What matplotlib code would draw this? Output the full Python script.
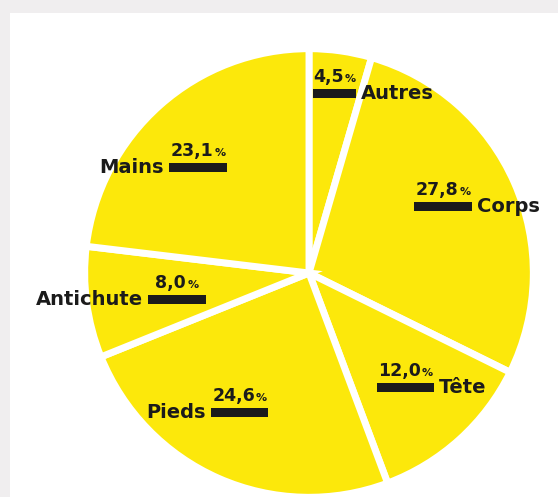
import matplotlib
matplotlib.use("Agg")
import matplotlib.pyplot as plt
from matplotlib.patches import Rectangle

# Share of incidents by body zone / equipment (%), clockwise from 12 o'clock
categories = ["Autres", "Corps", "Tête", "Pieds", "Antichute", "Mains"]
shares = [4.5, 27.8, 12.0, 24.6, 8.0, 23.1]

# Label layout: left end of the black bar (pie units), bar length, side of the name
label_anchor = [(0.018, 0.814), (0.475, 0.299), (0.308, -0.516),
                (-0.443, -0.633), (-0.729, -0.122), (-0.633, 0.477)]
bar_len = [0.195, 0.262, 0.258, 0.258, 0.262, 0.262]
name_side = ["right", "right", "right", "left", "left", "left"]

YELLOW = "#fce80b"
INK = "#1b1b1b"
PX = 72 / 100  # points per pixel

fig = plt.figure(figsize=(5.58, 4.97), dpi=100, facecolor="#f0eeef")
fig.patches.append(Rectangle((10 / 558, 0), 1, 1 - 13 / 497, transform=fig.transFigure,
                             facecolor="white", edgecolor="none", zorder=-5))

ax = fig.add_axes([88 / 558, 3 / 497, 442 / 558, 442 / 497])
ax.set_zorder(1)
ax.patch.set_visible(False)
ax.pie(shares, startangle=90, counterclock=False, colors=[YELLOW] * len(shares),
       radius=1.015, wedgeprops=dict(edgecolor="white", linewidth=5))
ax.set_xlim(-1, 1)
ax.set_ylim(-1, 1)
ax.set_aspect("equal")
ax.set_axis_off()

bar_h = 9 / 221
font = dict(family="DejaVu Sans", fontweight="bold", color=INK)

pct_pairs = []
for name, val, (x0, yc), w, side in zip(categories, shares, label_anchor, bar_len, name_side):
    ax.add_patch(Rectangle((x0, yc - bar_h / 2), w, bar_h, facecolor=INK,
                           edgecolor="none", zorder=5, clip_on=False))
    # category name next to the bar
    if side == "right":
        ax.annotate(name, xy=(x0 + w, yc), xytext=(5 * PX, -5.5 * PX),
                    textcoords="offset points", ha="left", va="baseline",
                    fontsize=14, zorder=6, annotation_clip=False, **font)
    else:
        ax.annotate(name, xy=(x0, yc), xytext=(-5 * PX, -5.5 * PX),
                    textcoords="offset points", ha="right", va="baseline",
                    fontsize=14, zorder=6, annotation_clip=False, **font)
    # value above the bar, with a smaller percent sign
    num_txt = f"{val:.1f}".replace(".", ",")
    xc = x0 + w / 2
    num = ax.annotate(num_txt, xy=(xc, yc), xytext=(0, 11.5 * PX),
                      textcoords="offset points", ha="left", va="baseline",
                      fontsize=12.5, zorder=6, annotation_clip=False, **font)
    pct = ax.annotate("%", xy=(xc, yc), xytext=(0, 11.5 * PX),
                      textcoords="offset points", ha="left", va="baseline",
                      fontsize=8, zorder=6, annotation_clip=False, **font)
    pct_pairs.append((num, pct))

# centre each "value %" group over its bar
fig.canvas.draw()
renderer = fig.canvas.get_renderer()
for num, pct in pct_pairs:
    wn = num.get_window_extent(renderer).width
    wp = pct.get_window_extent(renderer).width
    gap = 1.0
    total = wn + gap + wp
    num.xyann = (-total / 2 * PX, 11.5 * PX)
    pct.xyann = ((-total / 2 + wn + gap) * PX, 11.5 * PX)

fig.savefig("out.png", dpi=100, facecolor=fig.get_facecolor())
